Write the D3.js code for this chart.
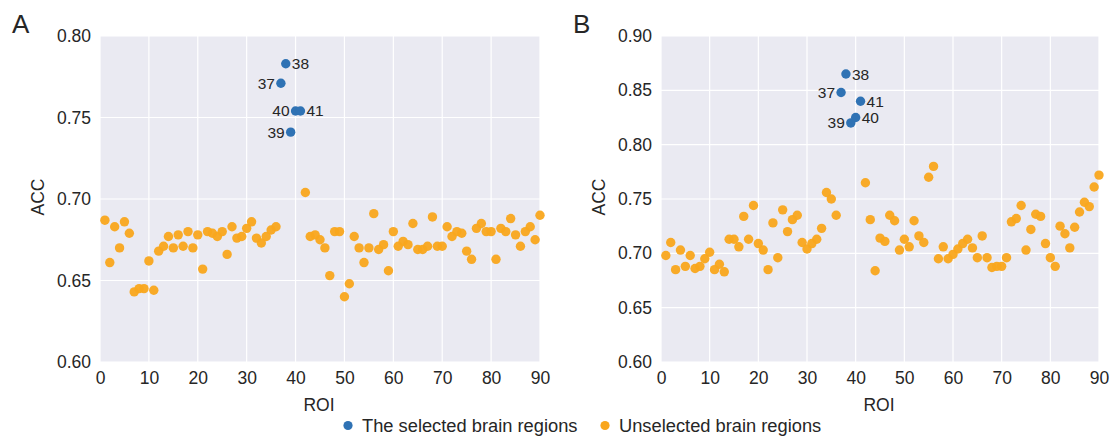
<!DOCTYPE html>
<html>
<head>
<meta charset="utf-8">
<script src="https://cdn.jsdelivr.net/npm/d3@7"></script>
<style>
  body { margin: 0; background: #fff; }
  text { font-family: "Liberation Sans", Arial, sans-serif; fill: #262626; }
</style>
</head>
<body>
<div id="chart"></div>
<script>
// ROI 1..90, accuracy per region
var roiA = d3.range(1, 91);
var accA = [
  0.687, 0.661, 0.683, 0.670, 0.686, 0.679, 0.643, 0.645, 0.645, 0.662,
  0.644, 0.668, 0.671, 0.677, 0.670, 0.678, 0.671, 0.680, 0.670, 0.678,
  0.657, 0.680, 0.679, 0.677, 0.680, 0.666, 0.683, 0.676, 0.677, 0.682,
  0.686, 0.676, 0.673, 0.677, 0.681, 0.683, 0.771, 0.783, 0.741, 0.754,
  0.754, 0.704, 0.677, 0.678, 0.675, 0.670, 0.653, 0.680, 0.680, 0.640,
  0.648, 0.677, 0.670, 0.661, 0.670, 0.691, 0.669, 0.672, 0.656, 0.680,
  0.671, 0.674, 0.672, 0.685, 0.669, 0.669, 0.671, 0.689, 0.671, 0.671,
  0.683, 0.677, 0.680, 0.679, 0.668, 0.663, 0.682, 0.685, 0.680, 0.680,
  0.663, 0.682, 0.680, 0.688, 0.678, 0.671, 0.680, 0.683, 0.675, 0.690
];
var accB = [
  0.698, 0.710, 0.685, 0.703, 0.688, 0.698, 0.686, 0.688, 0.695, 0.701,
  0.685, 0.690, 0.683, 0.713, 0.713, 0.706, 0.734, 0.713, 0.744, 0.709,
  0.703, 0.685, 0.728, 0.696, 0.740, 0.720, 0.731, 0.735, 0.710, 0.704,
  0.709, 0.713, 0.723, 0.756, 0.750, 0.735, 0.848, 0.865, 0.820, 0.825,
  0.840, 0.765, 0.731, 0.684, 0.714, 0.711, 0.735, 0.730, 0.703, 0.713,
  0.706, 0.730, 0.716, 0.710, 0.770, 0.780, 0.695, 0.706, 0.695, 0.699,
  0.704, 0.709, 0.713, 0.705, 0.696, 0.716, 0.696, 0.687, 0.688, 0.688,
  0.696, 0.729, 0.732, 0.744, 0.703, 0.722, 0.736, 0.734, 0.709, 0.696,
  0.688, 0.725, 0.718, 0.705, 0.724, 0.738, 0.747, 0.743, 0.761, 0.772
];
var selected = [37, 38, 39, 40, 41];
// which side the ROI number sits on
var labelSideA = {37: 'left', 38: 'right', 39: 'left', 40: 'left', 41: 'right'};
var labelSideB = {37: 'left', 38: 'right', 39: 'left', 40: 'right', 41: 'right'};

var ticksX = [0, 10, 20, 30, 40, 50, 60, 70, 80, 90];
var ticksA = [0.60, 0.65, 0.70, 0.75, 0.80];
var ticksB = [0.60, 0.65, 0.70, 0.75, 0.80, 0.85, 0.90];

var blue = '#2f72b4';
var orange = '#f9a61c';

var svg = d3.select('#chart').append('svg')
  .attr('width', 1115)
  .attr('height', 436);

function drawPanel(opts) {
  var g = svg.append('g');
  var x = d3.scaleLinear().domain([0, 90]).range([opts.left, opts.right]);
  var y = d3.scaleLinear().domain(opts.domain).range([362, 36]);

  g.append('rect')
    .attr('x', opts.left).attr('y', 36)
    .attr('width', opts.right - opts.left).attr('height', 326)
    .attr('fill', '#eaeaf2');

  g.selectAll('.gx').data(ticksX).enter().append('line')
    .attr('x1', d => x(d)).attr('x2', d => x(d))
    .attr('y1', 36).attr('y2', 362)
    .attr('stroke', '#fff').attr('stroke-width', 1.2);
  g.selectAll('.gy').data(opts.ticks).enter().append('line')
    .attr('x1', opts.left).attr('x2', opts.right)
    .attr('y1', d => y(d)).attr('y2', d => y(d))
    .attr('stroke', '#fff').attr('stroke-width', 1.2);

  var xAxis = g.append('g')
    .attr('transform', `translate(0, 362)`)
    .call(d3.axisBottom(x).tickValues(ticksX).tickSize(0).tickPadding(10));
  var yAxis = g.append('g')
    .attr('transform', `translate(${opts.left}, 0)`)
    .call(d3.axisLeft(y).tickValues(opts.ticks).tickSize(0).tickPadding(9).tickFormat(d3.format('.2f')));
  [xAxis, yAxis].forEach(function(ax) {
    ax.select('.domain').remove();
    ax.selectAll('text').attr('font-size', '17.5px').attr('fill', '#262626')
      .attr('font-family', '"Liberation Sans", Arial, sans-serif');
  });

  g.append('text')
    .attr('x', (opts.left + opts.right) / 2 - 1).attr('y', 411)
    .attr('text-anchor', 'middle').attr('font-size', '17.5px')
    .text('ROI');
  g.append('text')
    .attr('transform', `translate(${opts.left - 56}, 197) rotate(-90)`)
    .attr('text-anchor', 'middle').attr('font-size', '17.5px')
    .text('ACC');
  g.append('text')
    .attr('x', opts.left - 88).attr('y', 33)
    .attr('font-size', '26px')
    .text(opts.letter);

  var pts = roiA.map((r, i) => ({roi: r, acc: opts.data[i], sel: selected.indexOf(r) >= 0}));
  g.selectAll('.dot').data(pts).enter().append('circle')
    .attr('cx', d => x(d.roi))
    .attr('cy', d => y(d.acc))
    .attr('r', 4.7)
    .attr('fill', d => d.sel ? blue : orange)
    .attr('opacity', d => d.sel ? 1 : 0.95);

  g.selectAll('.lab').data(pts.filter(d => d.sel)).enter().append('text')
    .attr('x', d => x(d.roi) + (opts.sides[d.roi] === 'right' ? 6 : -6))
    .attr('y', d => y(d.acc) + 5.5)
    .attr('text-anchor', d => opts.sides[d.roi] === 'right' ? 'start' : 'end')
    .attr('font-size', '15.5px')
    .text(d => d.roi);
}

drawPanel({left: 100, right: 540, domain: [0.60, 0.80], ticks: ticksA, data: accA, letter: 'A', sides: labelSideA});
drawPanel({left: 661, right: 1099, domain: [0.60, 0.90], ticks: ticksB, data: accB, letter: 'B', sides: labelSideB});

// legend
var legend = [
  {name: 'The selected brain regions', color: blue, x: 348},
  {name: 'Unselected brain regions', color: orange, x: 605}
];
var lg = svg.selectAll('.legend').data(legend).enter().append('g')
  .attr('transform', d => `translate(${d.x}, 425.5)`);
lg.append('circle').attr('r', 4.6).attr('fill', d => d.color);
lg.append('text').attr('x', 14).attr('y', 6.5).attr('font-size', '18.3px').text(d => d.name);
</script>
</body>
</html>
